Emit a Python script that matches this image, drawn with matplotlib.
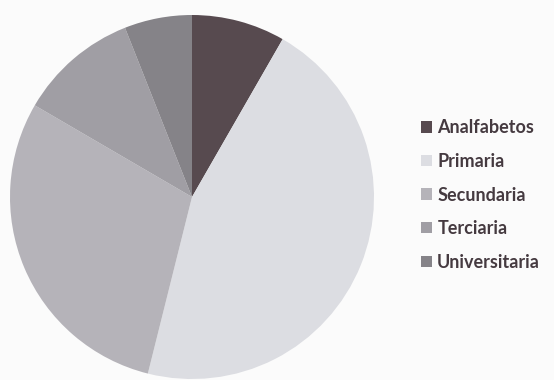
import matplotlib.pyplot as plt
from matplotlib.patches import Patch

# nivel educativo, participacion en %
categorias = ["Analfabetos", "Primaria", "Secundaria", "Terciaria", "Universitaria"]
valores = [8.3, 45.6, 29.5, 10.6, 6.0]
colores = ["#574a4f", "#dcdde2", "#b5b3b9", "#a09ea4", "#858388"]

fig = plt.figure(figsize=(5.54, 3.8), dpi=100)
fig.patch.set_facecolor("#fbfbfb")

ax = fig.add_axes([10 / 554, 0.0, 364 / 554, 366 / 380])
ax.pie(valores, colors=colores, startangle=90, counterclock=False,
       radius=1.0, wedgeprops=dict(linewidth=0))
ax.set_xlim(-1, 1)
ax.set_ylim(-1, 1)
ax.set_aspect("equal")
ax.axis("off")

handles = [Patch(facecolor=c, edgecolor="none") for c in colores]
leg = fig.legend(handles, categorias, loc="center left",
                 bbox_to_anchor=(421 / 554, 1 - 195 / 380),
                 frameon=False, borderpad=0, borderaxespad=0,
                 handlelength=0.6, handleheight=0.6,
                 handletextpad=0.3, labelspacing=0.92,
                 prop={"family": "Lato", "weight": "bold", "size": 13})
for t in leg.get_texts():
    t.set_color("#453a40")

fig.savefig("out.png", dpi=100, facecolor=fig.get_facecolor())
